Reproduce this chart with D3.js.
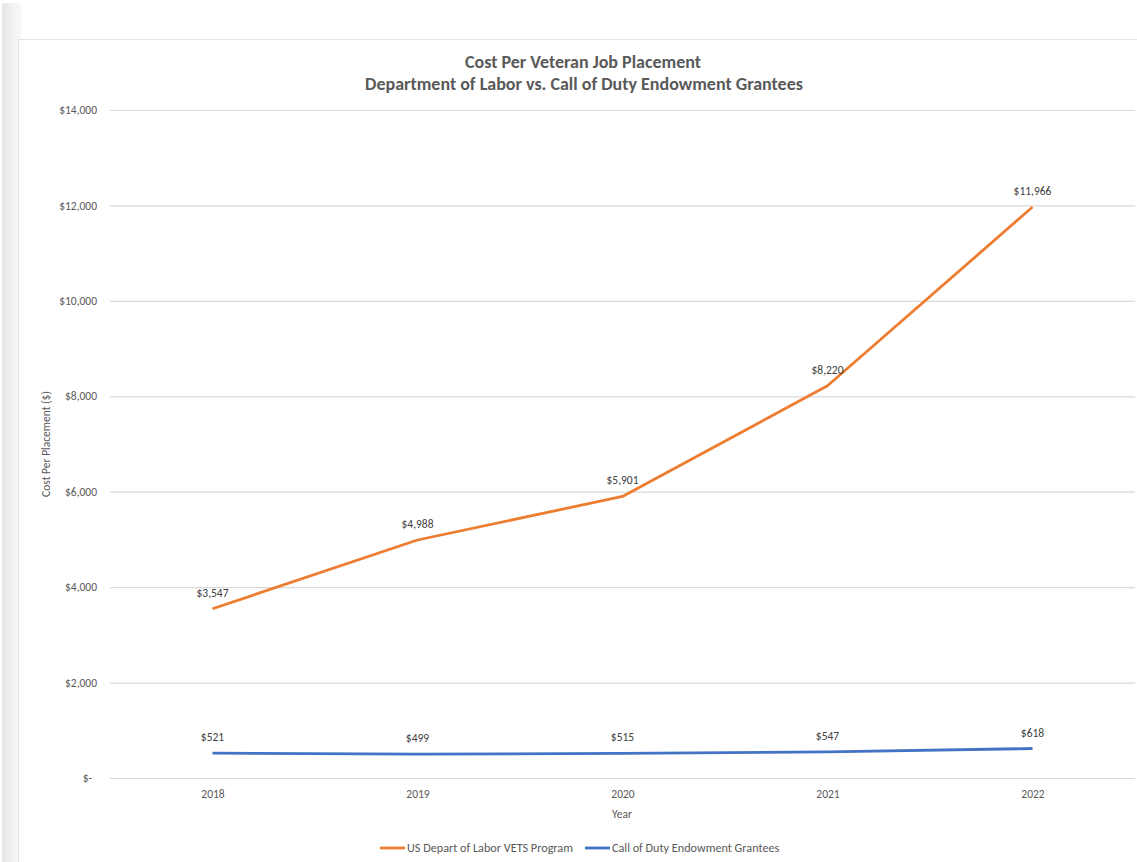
<!DOCTYPE html>
<html>
<head>
<meta charset="utf-8">
<script src="https://cdn.jsdelivr.net/npm/d3@7"></script>
<style>
  body { margin: 0; background: #fff; }
  text { font-family: Carlito, Calibri, Lato, "Open Sans", sans-serif; }
</style>
</head>
<body>
<script>
// data
const years = ["2018", "2019", "2020", "2021", "2022"];
const dolValues = [3547, 4988, 5901, 8220, 11966];
const codValues = [521, 499, 515, 547, 618];
const yTicks = [0, 2000, 4000, 6000, 8000, 10000, 12000, 14000];
const seriesNames = ["US Depart of Labor VETS Program", "Call of Duty Endowment Grantees"];
const seriesColors = ["#ed7d31", "#4472c4"];

const W = 1137, H = 862;
const margin = {top: 110, right: 2, bottom: 84, left: 110};

const svg = d3.select("body")
  .append("svg")
    .attr("width", W)
    .attr("height", H);

// grey strip on the left, like the screenshot
const grad = svg.append("defs").append("linearGradient")
  .attr("id", "strip").attr("x1", 0).attr("x2", 1);
grad.append("stop").attr("offset", 0).attr("stop-color", "#e6e6e6");
grad.append("stop").attr("offset", 1).attr("stop-color", "#fbfbfb");
svg.append("rect")
  .attr("x", 2).attr("y", 3).attr("width", 20).attr("height", H)
  .attr("fill", "url(#strip)");

// chart area frame
svg.append("rect")
  .attr("x", 18.5).attr("y", 39.5)
  .attr("width", W + 10).attr("height", H)
  .attr("fill", "#fff")
  .attr("stroke", "#e3e3e3");

const x = d3.scalePoint()
  .domain(years)
  .range([margin.left, W - margin.right])
  .padding(0.5);

const y = d3.scaleLinear()
  .domain([0, 14000])
  .range([H - margin.bottom, margin.top]);

// gridlines + y labels
const yAxis = svg.append("g")
  .attr("transform", `translate(${margin.left},0)`)
  .call(d3.axisLeft(y)
    .tickValues(yTicks)
    .tickSize(-(W - margin.right - margin.left))
    .tickPadding(13)
    .tickFormat(d => d === 0 ? "$-" : "$" + d3.format(",")(d)));
yAxis.select(".domain").remove();
yAxis.selectAll(".tick line").attr("stroke", "#d9d9d9").attr("stroke-width", 1.2);
yAxis.selectAll(".tick text")
  .attr("fill", "#595959")
  .style("font-size", "11.5px")
  .attr("dx", d => d === 0 ? -5 : 0);

// x labels
const xAxis = svg.append("g")
  .attr("transform", `translate(0,${H - margin.bottom})`)
  .call(d3.axisBottom(x).tickSize(0).tickPadding(12));
xAxis.select(".domain").remove();
xAxis.selectAll(".tick text")
  .attr("fill", "#595959")
  .style("font-size", "11.5px");

// lines
const line = d3.line()
  .x((d, i) => x(years[i]))
  .y(d => y(d));

[dolValues, codValues].forEach((vals, k) => {
  svg.append("path")
    .datum(vals)
    .attr("fill", "none")
    .attr("stroke", seriesColors[k])
    .attr("stroke-width", 2.8)
    .attr("stroke-linejoin", "round")
    .attr("d", line);

  svg.selectAll(null)
    .data(vals)
    .join("text")
      .attr("x", (d, i) => x(years[i]))
      .attr("y", d => y(d) - 12)
      .attr("text-anchor", "middle")
      .attr("fill", "#404040")
      .style("font-size", "11.5px")
      .text(d => "$" + d3.format(",")(d));
});

// titles
svg.append("text")
  .attr("x", 583).attr("y", 68)
  .attr("text-anchor", "middle")
  .attr("fill", "#595959")
  .style("font-size", "18px")
  .style("font-weight", "bold")
  .text("Cost Per Veteran Job Placement");
svg.append("text")
  .attr("x", 584).attr("y", 90)
  .attr("text-anchor", "middle")
  .attr("fill", "#595959")
  .style("font-size", "18px")
  .style("font-weight", "bold")
  .text("Department of Labor vs. Call of Duty Endowment Grantees");

svg.append("text")
  .attr("transform", `translate(50,${(margin.top + H - margin.bottom) / 2}) rotate(-90)`)
  .attr("text-anchor", "middle")
  .attr("fill", "#595959")
  .style("font-size", "11.5px")
  .text("Cost Per Placement ($)");

svg.append("text")
  .attr("x", 622).attr("y", 818)
  .attr("text-anchor", "middle")
  .attr("fill", "#595959")
  .style("font-size", "11.5px")
  .text("Year");

// legend
const legendX = [380, 585];
seriesNames.forEach((name, k) => {
  const g = svg.append("g").attr("transform", `translate(${legendX[k]},848)`);
  g.append("line")
    .attr("x1", 0).attr("x2", 25)
    .attr("stroke", seriesColors[k])
    .attr("stroke-width", 2.8);
  g.append("text")
    .attr("x", 27).attr("y", 4)
    .attr("fill", "#595959")
    .style("font-size", "12.2px")
    .text(name);
});
</script>
</body>
</html>
